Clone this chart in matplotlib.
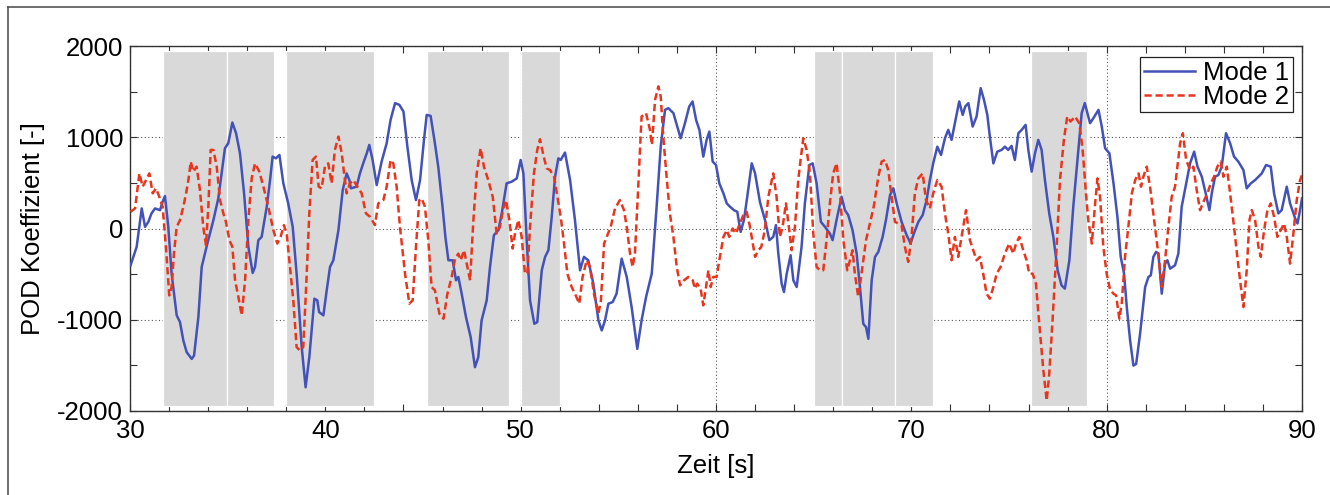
import matplotlib
matplotlib.use("Agg")
import matplotlib.pyplot as plt
from matplotlib.lines import Line2D
from matplotlib.ticker import MultipleLocator, FixedLocator

plt.rcParams['font.family'] = ['Liberation Sans', 'DejaVu Sans']
plt.rcParams['axes.unicode_minus'] = False

# Mode 1 POD coefficient over time
t_mode1 = [30.03, 30.34, 30.6, 30.77, 30.94, 31.1, 31.28, 31.54, 31.67, 31.79, 31.96, 32.13, 32.39, 32.56,
           32.73, 32.9, 33.16, 33.28, 33.5, 33.67, 33.96, 34.27, 34.52, 34.69, 34.86, 35.03, 35.24, 35.43,
           35.63, 35.84, 36.06, 36.28, 36.4, 36.57, 36.74, 37.0, 37.17, 37.3, 37.47, 37.65, 37.85, 38.1,
           38.33, 38.53, 38.79, 38.99, 39.18, 39.44, 39.59, 39.68, 39.9, 40.07, 40.24, 40.41, 40.67, 40.89,
           41.09, 41.23, 41.31, 41.6, 41.77, 41.94, 42.12, 42.25, 42.42, 42.63, 42.88, 43.14, 43.34, 43.57,
           43.79, 44.0, 44.2, 44.42, 44.64, 44.85, 45.05, 45.19, 45.39, 45.61, 45.78, 46.0, 46.15, 46.3,
           46.52, 46.69, 46.81, 46.98, 47.2, 47.44, 47.66, 47.83, 48.0, 48.26, 48.43, 48.63, 48.86, 49.03,
           49.28, 49.54, 49.8, 50.0, 50.14, 50.31, 50.48, 50.7, 50.85, 51.08, 51.25, 51.42, 51.59, 51.76,
           51.93, 52.05, 52.27, 52.53, 52.78, 53.04, 53.24, 53.46, 53.72, 53.98, 54.15, 54.32, 54.49, 54.71,
           54.91, 55.17, 55.43, 55.68, 55.97, 56.19, 56.42, 56.71, 56.96, 57.17, 57.39, 57.56, 57.82, 58.02,
           58.19, 58.41, 58.63, 58.8, 58.98, 59.15, 59.35, 59.52, 59.66, 59.83, 60.0, 60.17, 60.38, 60.55,
           60.72, 60.92, 61.09, 61.26, 61.43, 61.6, 61.83, 62.0, 62.25, 62.51, 62.73, 62.93, 63.07, 63.19,
           63.36, 63.48, 63.62, 63.82, 63.96, 64.13, 64.38, 64.55, 64.78, 64.95, 65.15, 65.37, 65.58, 65.83,
           65.97, 66.17, 66.43, 66.6, 66.77, 66.99, 67.2, 67.37, 67.54, 67.68, 67.8, 67.97, 68.14, 68.31,
           68.53, 68.7, 68.91, 69.08, 69.25, 69.5, 69.76, 69.96, 70.13, 70.36, 70.58, 70.78, 70.95, 71.12,
           71.33, 71.52, 71.72, 71.89, 72.06, 72.23, 72.45, 72.63, 72.76, 72.92, 73.14, 73.34, 73.55, 73.72,
           73.89, 74.02, 74.2, 74.4, 74.62, 74.79, 74.96, 75.13, 75.3, 75.48, 75.65, 75.85, 75.99, 76.16,
           76.33, 76.5, 76.67, 76.84, 77.06, 77.27, 77.49, 77.69, 77.86, 78.09, 78.29, 78.55, 78.72, 78.88,
           79.15, 79.32, 79.58, 79.75, 79.92, 80.14, 80.35, 80.55, 80.72, 80.89, 81.03, 81.2, 81.37, 81.51,
           81.71, 81.97, 82.14, 82.26, 82.39, 82.53, 82.65, 82.82, 82.99, 83.11, 83.25, 83.5, 83.67, 83.84,
           84.07, 84.27, 84.48, 84.65, 84.87, 85.09, 85.26, 85.38, 85.55, 85.72, 85.89, 86.11, 86.32, 86.52,
           86.74, 87.0, 87.17, 87.38, 87.6, 87.77, 87.94, 88.16, 88.4, 88.57, 88.79, 88.96, 89.22, 89.39,
           89.65, 89.77, 89.9, 90.0]
v_mode1 = [-403, -201, 220, 18, 73, 165, 220, 201, 293, 355, 18, -495, -952, -1026,
           -1227, -1355, -1429, -1392, -971, -421, -165, 92, 330, 604, 879, 934, 1161, 1044,
           824, 385, -201, -487, -421, -128, -92, 238, 531, 788, 769, 806, 495, 275,
           18, -495, -1300, -1740, -1410, -769, -788, -916, -952, -678, -421, -348, -18, 421,
           604, 531, 440, 458, 604, 714, 824, 916, 751, 476, 733, 934, 1190, 1374,
           1355, 1282, 897, 531, 311, 531, 971, 1245, 1234, 934, 678, 238, -100, -348,
           -348, -568, -531, -714, -971, -1190, -1520, -1410, -1007, -788, -421, -73, -18, 165,
           495, 513, 549, 751, 604, -128, -788, -1044, -1026, -458, -311, -238, 128, 568,
           769, 751, 832, 531, 92, -458, -311, -348, -604, -1007, -1117, -1007, -824, -806,
           -714, -330, -531, -861, -1319, -1007, -751, -495, 238, 897, 1300, 1319, 1264, 1117,
           989, 1154, 1337, 1392, 1190, 1081, 788, 971, 1062, 733, 696, 495, 385, 275,
           238, 201, 183, -37, 92, 348, 714, 604, 290, 92, -128, -92, 37, -275,
           -604, -696, -495, -293, -568, -641, -201, 275, 696, 714, 495, 73, 18, -55,
           -128, 92, 348, 201, 147, -18, -275, -641, -1044, -1081, -1209, -568, -311, -256,
           -92, 92, 366, 440, 275, 73, -73, -165, -55, 73, 147, 311, 531, 714,
           897, 806, 989, 1081, 971, 1154, 1392, 1245, 1337, 1374, 1117, 1227, 1538, 1410,
           1245, 1007, 714, 842, 861, 897, 861, 905, 751, 1044, 1081, 1136, 861, 623,
           824, 971, 861, 531, 165, -92, -458, -623, -659, -348, 238, 861, 1264, 1374,
           1154, 1209, 1300, 1117, 879, 824, 495, 128, -311, -495, -861, -1227, -1502, -1484,
           -1154, -641, -531, -513, -311, -256, -275, -714, -385, -348, -440, -403, -275, 238,
           495, 714, 842, 678, 568, 366, 201, 385, 568, 586, 678, 1044, 934, 788,
           733, 641, 440, 495, 531, 568, 604, 696, 678, 385, 165, 201, 458, 275,
           110, 55, 201, 330]

# Mode 2 POD coefficient over time
t_mode2 = [30.03, 30.26, 30.48, 30.65, 30.82, 30.99, 31.16, 31.33, 31.5, 31.67, 31.84, 32.01, 32.13, 32.25,
           32.39, 32.56, 32.73, 32.87, 32.99, 33.11, 33.24, 33.41, 33.58, 33.75, 33.89, 34.01, 34.13, 34.27,
           34.44, 34.61, 34.78, 34.91, 35.09, 35.24, 35.38, 35.55, 35.72, 35.89, 36.06, 36.23, 36.4, 36.62,
           36.83, 37.08, 37.34, 37.54, 37.71, 37.88, 38.02, 38.19, 38.36, 38.53, 38.7, 38.87, 39.01, 39.18,
           39.35, 39.52, 39.66, 39.81, 39.98, 40.15, 40.32, 40.49, 40.67, 40.84, 40.96, 41.09, 41.26, 41.43,
           41.64, 41.86, 42.08, 42.29, 42.54, 42.71, 42.97, 43.14, 43.34, 43.48, 43.65, 43.82, 44.08, 44.3,
           44.47, 44.64, 44.81, 44.93, 45.1, 45.27, 45.44, 45.61, 45.84, 46.05, 46.25, 46.47, 46.64, 46.81,
           46.93, 47.1, 47.27, 47.41, 47.58, 47.75, 47.95, 48.12, 48.34, 48.57, 48.77, 48.94, 49.11, 49.25,
           49.42, 49.59, 49.71, 49.88, 50.05, 50.22, 50.34, 50.48, 50.68, 50.85, 50.99, 51.16, 51.33, 51.5,
           51.71, 51.88, 52.05, 52.22, 52.39, 52.61, 52.78, 53.0, 53.17, 53.38, 53.55, 53.75, 53.98, 54.11,
           54.27, 54.44, 54.61, 54.83, 55.08, 55.29, 55.43, 55.6, 55.73, 55.85, 56.02, 56.19, 56.42, 56.62,
           56.72, 56.88, 57.05, 57.17, 57.3, 57.47, 57.64, 57.82, 57.99, 58.16, 58.36, 58.58, 58.81, 58.92,
           59.04, 59.21, 59.35, 59.49, 59.61, 59.73, 59.86, 60.03, 60.2, 60.38, 60.55, 60.68, 60.85, 61.02,
           61.19, 61.4, 61.57, 61.74, 62.0, 62.17, 62.32, 62.5, 62.68, 62.93, 63.1, 63.27, 63.41, 63.58,
           63.75, 63.87, 64.04, 64.21, 64.33, 64.47, 64.64, 64.81, 64.98, 65.15, 65.32, 65.49, 65.66, 65.83,
           66.0, 66.17, 66.35, 66.52, 66.72, 66.86, 66.99, 67.11, 67.28, 67.45, 67.68, 67.88, 68.09, 68.31,
           68.48, 68.65, 68.82, 68.99, 69.16, 69.33, 69.5, 69.67, 69.84, 70.01, 70.18, 70.36, 70.58, 70.75,
           70.95, 71.12, 71.33, 71.55, 71.72, 71.89, 72.06, 72.23, 72.4, 72.57, 72.8, 73.0, 73.17, 73.34,
           73.51, 73.68, 73.85, 74.02, 74.2, 74.37, 74.57, 74.79, 75.01, 75.22, 75.36, 75.53, 75.73, 75.9,
           76.04, 76.21, 76.38, 76.55, 76.76, 76.93, 77.06, 77.23, 77.44, 77.61, 77.81, 77.98, 78.15, 78.38,
           78.6, 78.77, 78.94, 79.06, 79.24, 79.41, 79.53, 79.66, 79.83, 80.0, 80.18, 80.35, 80.48, 80.65,
           80.77, 80.94, 81.11, 81.29, 81.46, 81.63, 81.76, 81.88, 82.05, 82.22, 82.39, 82.6, 82.82, 82.99,
           83.16, 83.33, 83.5, 83.62, 83.76, 83.9, 84.07, 84.27, 84.44, 84.61, 84.78, 84.99, 85.16, 85.33,
           85.5, 85.67, 85.84, 85.98, 86.15, 86.32, 86.52, 86.69, 86.83, 87.0, 87.17, 87.31, 87.43, 87.6,
           87.77, 87.89, 88.06, 88.23, 88.4, 88.57, 88.74, 88.91, 89.08, 89.22, 89.39, 89.56, 89.73, 89.9,
           90.0]
v_mode2 = [183, 220, 604, 458, 531, 604, 385, 440, 348, 238, -201, -733, -641, -275,
           18, 92, 238, 385, 531, 733, 623, 678, 421, 18, -183, 238, 861, 861,
           678, 311, 165, 73, -128, -201, -568, -751, -952, -568, 92, 549, 714, 623,
           458, 238, -18, -165, -92, 37, -55, -421, -788, -1300, -1337, -1300, -678, 165,
           751, 788, 458, 440, 678, 714, 495, 861, 1007, 824, 604, 385, 495, 531,
           458, 385, 165, 128, 37, 275, 311, 458, 751, 714, 458, 18, -495, -824,
           -788, -201, 311, 330, 238, -128, -641, -678, -934, -989, -714, -531, -330, -275,
           -348, -238, -421, -568, 92, 604, 879, 678, 531, 348, -55, 18, 220, 311,
           92, -220, -55, 92, -92, -495, -495, 18, 604, 861, 978, 806, 659, 641,
           568, 348, 128, -165, -495, -641, -714, -824, -531, -348, -421, -714, -934, -788,
           -165, -73, 18, 220, 311, 201, 18, -275, -421, -275, 458, 1227, 1264, 1081,
           916, 1410, 1557, 1447, 1007, 568, 165, -92, -421, -623, -568, -531, -568, -659,
           -604, -659, -842, -641, -458, -641, -531, -531, -311, -92, -18, -92, 0, -55,
           37, 147, 183, 18, -311, -238, -201, -18, 348, 604, 348, -92, 18, 275,
           -18, -238, 18, 531, 751, 989, 861, 604, -55, -421, -458, -458, -128, 275,
           604, 714, 385, -128, -458, -348, -238, -495, -751, -495, -128, 55, 256, 568,
           733, 751, 641, 348, 73, 55, 37, -201, -366, -92, 385, 549, 604, 311,
           220, 385, 531, 458, 165, -55, -348, -92, -311, -92, 201, -128, -238, -348,
           -311, -495, -714, -769, -641, -495, -421, -275, -165, -275, -165, -92, -238, -348,
           -495, -495, -604, -1044, -1557, -1886, -1593, -1007, -201, 531, 971, 1227, 1172, 1227,
           1154, 861, 385, 92, -165, 275, 549, 348, -201, -495, -678, -714, -733, -989,
           -824, -311, 18, 385, 531, 604, 458, 568, 678, 458, 165, -201, -641, -348,
           18, 348, 458, 678, 934, 1044, 751, 641, 678, 421, 201, 311, 385, 495,
           568, 678, 733, 568, 678, 385, 18, -311, -568, -861, -458, 92, 201, 92,
           -201, -311, -18, 201, 275, 128, -92, -18, 55, -92, -385, -55, 311, 531,
           586]

# Shaded time intervals (start, end) in seconds
span_start = [31.7, 34.95, 38.0, 45.2, 50.0, 65.0, 66.45, 69.15, 76.15]
span_end = [34.95, 37.35, 42.5, 49.4, 52.0, 66.45, 69.15, 71.1, 79.0]
span_low, span_high = -1950, 1950

x_ticks = [30, 40, 50, 60, 70, 80, 90]
y_ticks = [-2000, -1000, 0, 1000, 2000]

FS = 18.5

fig = plt.figure(figsize=(13.3, 4.95), dpi=100)
ax = fig.add_axes([130 / 1330, 1 - 411 / 495, 1172 / 1330, 365 / 495])

for s0, s1 in zip(span_start, span_end):
    ax.fill_between([s0, s1], span_low, span_high, facecolor='#d9d9d9',
                    edgecolor='white', linewidth=0.9, zorder=1)

ax.plot(t_mode1, v_mode1, color='#4352b8', lw=1.8, label='Mode 1', zorder=3)
ax.plot(t_mode2, v_mode2, color='#e8361e', lw=1.8, ls=(0, (2.9, 1.5)), label='Mode 2', zorder=3)

ax.set_xlim(30, 90)
ax.set_ylim(-2000, 2000)
ax.xaxis.set_major_locator(FixedLocator(x_ticks))
ax.yaxis.set_major_locator(FixedLocator(y_ticks))
ax.xaxis.set_minor_locator(MultipleLocator(2))
ax.yaxis.set_minor_locator(MultipleLocator(500))
ax.tick_params(which='both', direction='in', top=True, right=True, length=5,
               width=0.8, color='#333333')
ax.tick_params(axis='both', which='major', labelsize=FS)
ax.tick_params(axis='x', which='major', pad=6)
ax.tick_params(axis='y', which='major', pad=5)

ax.set_axisbelow(True)
ax.grid(True, which='major', color='#555555', linestyle=(0, (1, 2.2)), linewidth=0.8, zorder=0)

for sp in ax.spines.values():
    sp.set_color('#333333')
    sp.set_linewidth(1.0)

ax.set_xlabel('Zeit [s]', fontsize=FS)
ax.set_ylabel('POD Koeffizient [-]', fontsize=FS)
ax.xaxis.set_label_coords(0.5, -0.118)
ax.yaxis.set_label_coords(-0.0725, 0.5)

leg = ax.legend(loc='upper right', bbox_to_anchor=(0.9923, 0.9707), borderaxespad=0,
                fontsize=FS, frameon=True, fancybox=False, framealpha=1,
                handlelength=2.0, handletextpad=0.3, labelspacing=0.0, borderpad=0.15,
                handleheight=0.7)
leg.get_frame().set_edgecolor('#222222')
leg.get_frame().set_linewidth(0.9)
for txt in leg.get_texts():
    txt.set_x(0)

# Outer page frame (top and left edges)
fig.add_artist(Line2D([7.5 / 1330, 1.0], [1 - 7 / 495, 1 - 7 / 495], color='#555555', lw=1.2))
fig.add_artist(Line2D([7.5 / 1330, 7.5 / 1330], [0.0, 1 - 7 / 495], color='#555555', lw=1.2))

fig.savefig('out.png', dpi=100)
